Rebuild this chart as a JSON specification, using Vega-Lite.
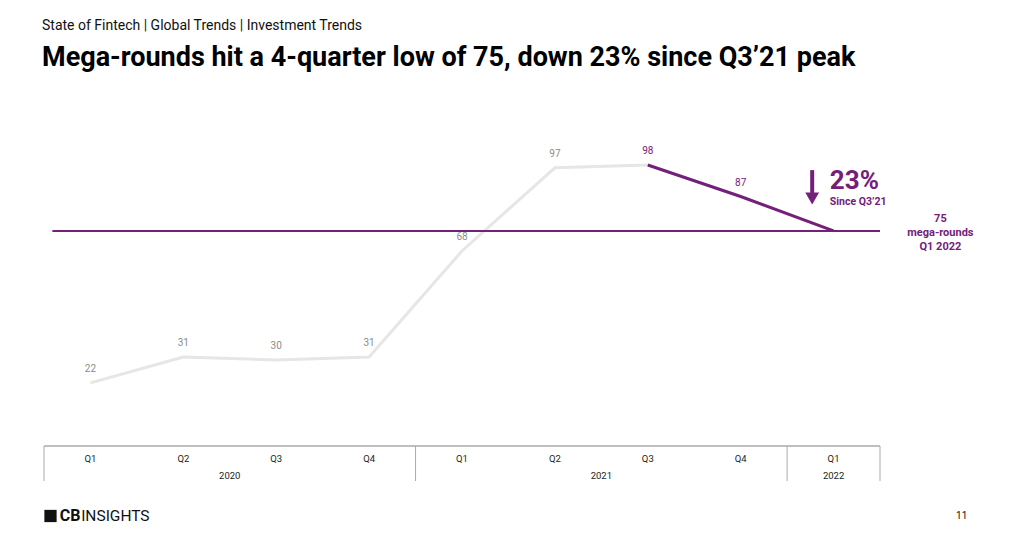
{
  "$schema": "https://vega.github.io/schema/vega-lite/v6.json",
  "autosize": "none",
  "width": 836,
  "height": 380,
  "padding": {"left": 44, "top": 101, "right": 131, "bottom": 57},
  "background": "white",
  "config": {"view": {"stroke": null}, "font": "Roboto"},
  "title": {
    "text": "State of Fintech | Global Trends  |  Investment Trends",
    "subtitle": "Mega-rounds hit a 4-quarter low of 75, down 23% since Q3’21 peak",
    "anchor": "start",
    "frame": "group",
    "font": "Roboto",
    "fontSize": 14,
    "fontWeight": "normal",
    "color": "#111111",
    "subtitleFont": "Roboto",
    "subtitleFontSize": 27,
    "subtitleFontWeight": "bold",
    "subtitleColor": "#000000",
    "subtitlePadding": 12,
    "offset": 30,
    "dx": -2
  },
  "datasets": {
    "mega": [
      {"i": 0, "quarter": "Q1", "year": "2020", "rounds": 22},
      {"i": 1, "quarter": "Q2", "year": "2020", "rounds": 31},
      {"i": 2, "quarter": "Q3", "year": "2020", "rounds": 30},
      {"i": 3, "quarter": "Q4", "year": "2020", "rounds": 31},
      {"i": 4, "quarter": "Q1", "year": "2021", "rounds": 68},
      {"i": 5, "quarter": "Q2", "year": "2021", "rounds": 97},
      {"i": 6, "quarter": "Q3", "year": "2021", "rounds": 98},
      {"i": 7, "quarter": "Q4", "year": "2021", "rounds": 87},
      {"i": 8, "quarter": "Q1", "year": "2022", "rounds": 75}
    ],
    "years": [
      {"year": "2020", "mid": 1.5},
      {"year": "2021", "mid": 5.5},
      {"year": "2022", "mid": 8}
    ],
    "dividers": [
      {"edge": -0.5},
      {"edge": 3.5},
      {"edge": 7.5},
      {"edge": 8.5}
    ]
  },
  "layer": [
    {
      "data": {"name": "mega"},
      "transform": [{"filter": "datum.i <= 6"}],
      "mark": {"type": "line", "color": "#e6e6e6", "strokeWidth": 3},
      "encoding": {
        "x": {"field": "i", "type": "quantitative", "scale": {"domain": [-0.5, 8.5], "nice": false, "zero": false}, "axis": null},
        "y": {"field": "rounds", "type": "quantitative", "scale": {"domain": [-12.2, 120.3], "nice": false, "zero": false}, "axis": null}
      }
    },
    {
      "data": {"name": "mega"},
      "transform": [{"filter": "datum.i >= 6"}],
      "mark": {"type": "line", "color": "#74207a", "strokeWidth": 3},
      "encoding": {
        "x": {"field": "i", "type": "quantitative"},
        "y": {"field": "rounds", "type": "quantitative"}
      }
    },
    {
      "data": {"values": [{"level": 75}]},
      "mark": {"type": "rule", "color": "#74207a", "strokeWidth": 2},
      "encoding": {
        "y": {"field": "level", "type": "quantitative"},
        "x": {"datum": -0.41},
        "x2": {"datum": 8.5}
      }
    },
    {
      "data": {"name": "mega"},
      "transform": [{"filter": "datum.i <= 7"}],
      "mark": {"type": "text", "dy": -14, "fontSize": 10, "baseline": "middle"},
      "encoding": {
        "x": {"field": "i", "type": "quantitative"},
        "y": {"field": "rounds", "type": "quantitative"},
        "text": {"field": "rounds", "type": "quantitative"},
        "color": {"condition": {"test": "datum.i >= 6", "value": "#74207a"}, "value": "#8c8c8c"}
      }
    },
    {
      "data": {"values": [{"v": 0}]},
      "mark": {"type": "rule", "color": "#aaaaaa", "strokeWidth": 1.5},
      "encoding": {
        "y": {"field": "v", "type": "quantitative"},
        "x": {"datum": -0.5},
        "x2": {"datum": 8.5}
      }
    },
    {
      "data": {"name": "dividers"},
      "mark": {"type": "rule", "color": "#aaaaaa", "strokeWidth": 1},
      "encoding": {
        "x": {"field": "edge", "type": "quantitative"},
        "y": {"datum": 0},
        "y2": {"datum": -12.2}
      }
    },
    {
      "data": {"name": "mega"},
      "mark": {"type": "text", "dy": 13, "fontSize": 9.5, "color": "#222222", "baseline": "middle"},
      "encoding": {
        "x": {"field": "i", "type": "quantitative"},
        "y": {"datum": 0},
        "text": {"field": "quarter"}
      }
    },
    {
      "data": {"name": "years"},
      "mark": {"type": "text", "dy": 30, "fontSize": 9.5, "color": "#222222", "baseline": "middle"},
      "encoding": {
        "x": {"field": "mid", "type": "quantitative"},
        "y": {"datum": 0},
        "text": {"field": "year"}
      }
    },
    {
      "data": {"values": [{"t": "23%"}]},
      "mark": {"type": "text", "fontSize": 26, "fontWeight": "bold", "color": "#74207a", "align": "left", "baseline": "middle"},
      "encoding": {
        "x": {"datum": 7.96},
        "y": {"datum": 92.4},
        "text": {"field": "t"}
      }
    },
    {
      "data": {"values": [{"t": "Since Q3’21"}]},
      "mark": {"type": "text", "fontSize": 10.5, "fontWeight": "bold", "color": "#74207a", "align": "left", "baseline": "middle"},
      "encoding": {
        "x": {"datum": 7.96},
        "y": {"datum": 85.2},
        "text": {"field": "t"}
      }
    },
    {
      "data": {"values": [{"a": 1}]},
      "mark": {"type": "rule", "color": "#74207a", "strokeWidth": 4},
      "encoding": {
        "x": {"datum": 7.77},
        "y": {"datum": 96.2},
        "y2": {"datum": 87.5}
      }
    },
    {
      "data": {"values": [{"a": 1}]},
      "mark": {"type": "point", "shape": "triangle-down", "filled": true, "color": "#74207a", "size": 190, "opacity": 1},
      "encoding": {
        "x": {"datum": 7.77},
        "y": {"datum": 86.3}
      }
    },
    {
      "data": {"values": [{"t": "75\nmega-rounds\nQ1 2022"}]},
      "mark": {"type": "text", "fontSize": 11, "fontWeight": "bold", "color": "#74207a", "align": "center", "baseline": "middle", "lineBreak": "\n", "lineHeight": 14},
      "encoding": {
        "x": {"datum": 9.15},
        "y": {"datum": 79.3},
        "text": {"field": "t"}
      }
    },
    {
      "data": {"values": [{"a": 1}]},
      "mark": {"type": "point", "shape": "square", "filled": true, "color": "#111111", "size": 150, "opacity": 1},
      "encoding": {
        "x": {"datum": -0.43},
        "y": {"datum": -24.4}
      }
    },
    {
      "data": {"values": [{"t": "CB"}]},
      "mark": {"type": "text", "fontSize": 16, "fontWeight": "bold", "color": "#111111", "align": "left", "baseline": "middle"},
      "encoding": {
        "x": {"datum": -0.33},
        "y": {"datum": -24.4},
        "text": {"field": "t"}
      }
    },
    {
      "data": {"values": [{"t": "INSIGHTS"}]},
      "mark": {"type": "text", "fontSize": 15.5, "fontWeight": "normal", "color": "#111111", "align": "left", "baseline": "middle"},
      "encoding": {
        "x": {"datum": -0.1},
        "y": {"datum": -24.4},
        "text": {"field": "t"}
      }
    },
    {
      "data": {"values": [{"t": "11"}]},
      "mark": {"type": "text", "fontSize": 10, "color": "#111111", "align": "center", "baseline": "middle"},
      "encoding": {
        "x": {"datum": 9.38},
        "y": {"datum": -24.4},
        "text": {"field": "t"}
      }
    }
  ]
}
